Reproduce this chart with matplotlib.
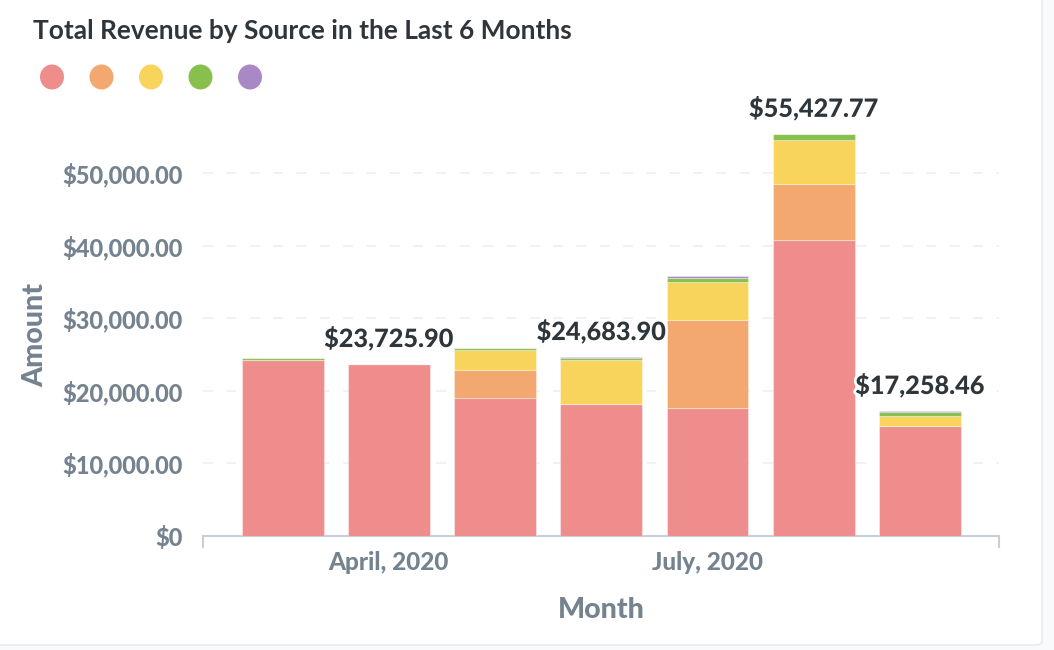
import matplotlib
matplotlib.use("Agg")
import matplotlib.pyplot as plt
import matplotlib.patheffects as pe
from matplotlib.patches import FancyBboxPatch, Ellipse
import numpy as np

months = ["March, 2020", "April, 2020", "May, 2020", "June, 2020", "July, 2020", "August, 2020", "September, 2020"]
source_a = [24250, 23725.90, 19000, 18150, 17600, 40730, 15150]
source_b = [0, 0, 3850, 0, 12150, 7750, 0]
source_c = [0, 0, 2750, 6050, 5300, 6070, 1380]
source_d = [250, 0, 300, 280, 450, 877.77, 500]
source_e = [0, 0, 0, 203.90, 350, 0, 228.46]
series = [source_a, source_b, source_c, source_d, source_e]
colors = ["#EF8C8C", "#F2A86F", "#F9D45C", "#88BF4D", "#A989C5"]
label_idx = [1, 3, 5, 6]
tick_idx = [1, 4]
yticks = [0, 10000, 20000, 30000, 40000, 50000]

plt.rcParams['font.family'] = ['Lato', 'DejaVu Sans']

fig = plt.figure(figsize=(10.54, 6.5), dpi=100)
fig.patch.set_facecolor("#F9FAFB")
card = FancyBboxPatch((-10 / 1054, 1 - 645 / 650), (1042 + 10) / 1054, 660 / 650,
                      boxstyle="round,pad=0,rounding_size=0.006", transform=fig.transFigure,
                      facecolor="white", edgecolor="#E6E9EC", linewidth=1.0, zorder=-10)
fig.patches.append(card)

ax = fig.add_axes([203 / 1054, 1 - 536 / 650, (999 - 203) / 1054, (536 - 114.9) / 650])
ax.set_facecolor("none")
ax.set_zorder(5)

x = np.arange(len(months))
bottom = np.zeros(len(months))
for vals, c in zip(series, colors):
    v = np.array(vals, dtype=float)
    ax.bar(x, v, bottom=bottom, width=0.77, color=c, edgecolor=(1, 1, 1, 0.35), linewidth=0.8, zorder=3)
    bottom += v

totals = bottom
for i in label_idx:
    t = ax.text(x[i], totals[i] + 3450, "${:,.2f}".format(totals[i]), ha="center", va="center",
                fontsize=18.2, fontweight=900, color="#2E353B", zorder=5, clip_on=False)
    t.set_path_effects([pe.withStroke(linewidth=4, foreground="white")])

ax.set_xlim(-0.75, 6.745)
ax.set_ylim(0, 58000)
ax.set_yticks(yticks)
ax.set_yticklabels(["$0"] + ["${:,.2f}".format(v) for v in yticks[1:]], fontweight=900)
ax.set_xticks(x[tick_idx])
ax.set_xticklabels([months[i] for i in tick_idx], fontweight=900)

for v in yticks[1:]:
    ax.axhline(v, color="#ECEFF1", linewidth=1.2, linestyle=(0, (6, 8)), zorder=1)

for s in ["top", "right", "left"]:
    ax.spines[s].set_visible(False)
ax.spines["bottom"].set_color("#C8D0D6")
ax.spines["bottom"].set_linewidth(1.5)
ax.tick_params(axis="y", length=0, pad=14.4, labelsize=17, labelcolor="#74838F")
ax.tick_params(axis="x", length=0, pad=11, labelsize=17.5, labelcolor="#74838F")
# end ticks on the x axis
for xe in ax.get_xlim():
    ax.plot([xe, xe], [0, -1500], color="#C8D0D6", linewidth=1.5, clip_on=False, zorder=2)

ax.set_xlabel("Month", fontsize=20.6, fontweight=900, color="#74838F", labelpad=16)
ax.set_ylabel("Amount", fontsize=20.6, fontweight=900, color="#74838F", labelpad=12)
ax.yaxis.set_label_coords(48 / 1054, 1 - 335 / 650, transform=fig.transFigure)

fig.text(33 / 1054, 1 - 31 / 650, "Total Revenue by Source in the Last 6 Months", ha="left", va="center",
         fontsize=18.9, fontweight="bold", color="#2E353B")
for k, c in enumerate(colors):
    e = Ellipse(((52 + 49.5 * k) / 1054, 1 - 77 / 650), 24 / 1054, 25 / 650, transform=fig.transFigure,
                facecolor=c, edgecolor="none")
    fig.patches.append(e)

fig.savefig("out.png", dpi=100, facecolor=fig.get_facecolor())
